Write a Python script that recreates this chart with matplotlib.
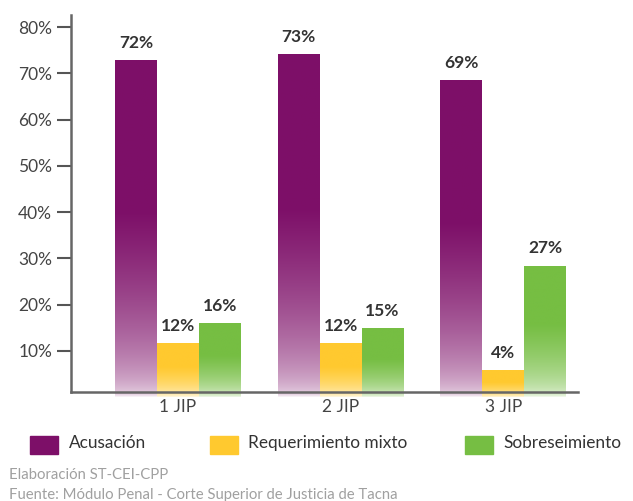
import numpy as np
import matplotlib
matplotlib.use("Agg")
import matplotlib.pyplot as plt
from matplotlib.colors import to_rgb
from matplotlib.patches import Rectangle

# ---- data ----
categories = ["1 JIP", "2 JIP", "3 JIP"]
series_names = ["Acusación", "Requerimiento mixto", "Sobreseimiento"]
acusacion = [72.8, 74.2, 68.6]
requerimiento = [11.7, 11.7, 5.8]
sobreseimiento = [16.0, 14.9, 28.4]
acusacion_labels = ["72%", "73%", "69%"]
requerimiento_labels = ["12%", "12%", "4%"]
sobreseimiento_labels = ["16%", "15%", "27%"]
yticks = [10, 20, 30, 40, 50, 60, 70, 80]
ytick_labels = ["10%", "20%", "30%", "40%", "50%", "60%", "70%", "80%"]
source_lines = ["Elaboración ST-CEI-CPP",
                "Fuente: Módulo Penal - Corte Superior de Justicia de Tacna"]

colors = ["#7D0F68", "#FFC92F", "#76BE43"]
values = [acusacion, requerimiento, sobreseimiento]
labels = [acusacion_labels, requerimiento_labels, sobreseimiento_labels]

plt.rcParams['font.family'] = ['Lato', 'DejaVu Sans']

W, H = 633, 501
fig = plt.figure(figsize=(W / 100, H / 100), dpi=100)
ax = fig.add_axes([71 / W, (H - 392) / H, (578 - 71) / W, (392 - 15) / H])

x = np.arange(len(categories))
bw = 0.258
offsets = [-bw, 0, bw]


def gradient_img(color, n=256):
    rgb = np.array(to_rgb(color))
    t = np.linspace(0, 1, n)
    s = np.clip(t / 0.55, 0, 1)
    w = 0.06 + 0.94 * s ** 0.45
    img = 1 - (1 - rgb)[None, :] * w[:, None]
    return img[:, None, :]


for vals, col, labs, off in zip(values, colors, labels, offsets):
    bars = ax.bar(x + off, vals, width=bw, color='none', edgecolor='none', zorder=2)
    img = gradient_img(col)
    for b, lab in zip(bars, labs):
        x0, y0 = b.get_x(), b.get_y()
        w_, h_ = b.get_width(), b.get_height()
        im = ax.imshow(img, extent=(x0, x0 + w_, y0, y0 + h_), origin='lower',
                       aspect='auto', zorder=2, interpolation='bilinear')
        im.set_clip_path(b)
        ax.text(x0 + w_ / 2, y0 + h_ + 2.0, lab, ha='center', va='bottom',
                fontsize=12.5, fontweight='bold', color='#333333')

ax.set_xlim(-0.658, 2.46)
ax.set_ylim(1.1, 82.6)
ax.set_yticks(yticks)
ax.set_yticklabels(ytick_labels)
ax.set_xticks(x)
ax.set_xticklabels(categories)
ax.tick_params(axis='y', length=10, width=1.5, color='#555555', labelsize=12.5,
               labelcolor='#444444', pad=3.5)
ax.tick_params(axis='x', length=0, labelsize=12.5, labelcolor='#444444', pad=5)
for sp in ['top', 'right']:
    ax.spines[sp].set_visible(False)
for sp in ['left', 'bottom']:
    ax.spines[sp].set_color('#666666')
    ax.spines[sp].set_linewidth(1.8)

# legend
leg_sq_x = [30, 210, 465]
leg_txt_x = [69, 248, 503]
for name, col, sx, tx in zip(series_names, colors, leg_sq_x, leg_txt_x):
    fig.patches.append(Rectangle((sx / W, (H - 454) / H), 28 / W, 18 / H,
                                 transform=fig.transFigure, color=col))
    fig.text(tx / W, (H - 443) / H, name, ha='left', va='center',
             fontsize=12.4, color='#333333')

fig.text(9 / W, (H - 475) / H, source_lines[0], ha='left', va='center',
         fontsize=10.7, color='#a0a0a0')
fig.text(9 / W, (H - 495) / H, source_lines[1], ha='left', va='center',
         fontsize=10.7, color='#a0a0a0')

fig.savefig("out.png", dpi=100)
